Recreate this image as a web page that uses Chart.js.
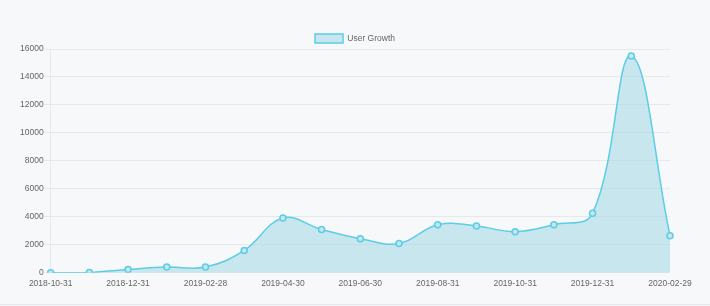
<!DOCTYPE html>
<html>
<head>
<meta charset="utf-8">
<script src="https://cdn.jsdelivr.net/npm/chart.js@4/dist/chart.umd.min.js"></script>
<style>
  html, body { margin: 0; padding: 0; background: #f7f8fa; }
  .card { width: 710px; height: 304px; border-bottom: 1px solid #e3e5e8; position: relative; }
  canvas { display: block; }
</style>
</head>
<body>
<div class="card"><canvas id="growthChart" width="710" height="304"></canvas></div>
<script>
// Data
const months = [
  "2018-10-31", "2018-11-30", "2018-12-31", "2019-01-31", "2019-02-28", "2019-03-31",
  "2019-04-30", "2019-05-31", "2019-06-30", "2019-07-31", "2019-08-31", "2019-09-30",
  "2019-10-31", "2019-11-30", "2019-12-31", "2020-01-31", "2020-02-29"
];
const userGrowth = [
  0, 20, 240, 410, 410, 1600,
  3920, 3100, 2440, 2100, 3440, 3350,
  2940, 3440, 4250, 15500, 2650
];
const yTicks = { min: 0, max: 16000, step: 2000 };

const tickColor = "#666";
const gridColor = "#e6e8ec";
const font = { family: "'Liberation Sans', Arial, sans-serif", size: 8.5 };

// legend in v4 adds a fixed 10px below itself; pull the plot up a bit,
// and centre it on the whole canvas instead of the padded box
const tightLegend = {
  id: "tightLegend",
  beforeUpdate(chart) {
    const legend = chart.legend;
    if (!legend || legend._tight) return;
    const fit = legend.fit;
    legend.fit = function () {
      fit.call(this);
      this.height -= 4;
    };
    legend._tight = true;
  },
  afterLayout(chart) {
    const legend = chart.legend;
    if (!legend) return;
    const shift = chart.width / 2 - (legend.left + legend.right) / 2;
    legend.left += shift;
    legend.right += shift;
    if (legend.adjustHitBoxes) legend.adjustHitBoxes();
  }
};

document.addEventListener("DOMContentLoaded", () => {
  const ctx = document.getElementById("growthChart");
  new Chart(ctx, {
    type: "line",
    data: {
      labels: months,
      datasets: [{
        label: "User Growth",
        data: userGrowth,
        borderColor: "#5ccde6",
        backgroundColor: "rgba(160, 215, 225, 0.55)",
        borderWidth: 1.5,
        fill: true,
        tension: 0.4,
        pointRadius: 3,
        pointBorderWidth: 1.5,
        pointBackgroundColor: "#c5e6ec",
        pointBorderColor: "#5ccde6"
      }]
    },
    options: {
      responsive: false,
      animation: false,
      layout: { padding: { left: 19, right: 40, top: 33, bottom: 9 } },
      plugins: {
        legend: {
          labels: {
            color: tickColor,
            boxWidth: 28,
            boxHeight: 9,
            padding: 1,
            font: font
          }
        },
        tooltip: { enabled: false }
      },
      scales: {
        x: {
          grid: { display: false, drawTicks: false },
          border: { display: false },
          ticks: {
            color: tickColor,
            maxRotation: 0,
            autoSkip: true,
            padding: 6,
            font: font
          }
        },
        y: {
          min: yTicks.min,
          max: yTicks.max,
          grid: { color: gridColor, tickLength: 6 },
          border: { color: gridColor },
          ticks: {
            stepSize: yTicks.step,
            color: tickColor,
            padding: 1,
            font: font,
            callback: (v) => String(v)
          }
        }
      }
    },
    plugins: [tightLegend]
  });
});
</script>
</body>
</html>
